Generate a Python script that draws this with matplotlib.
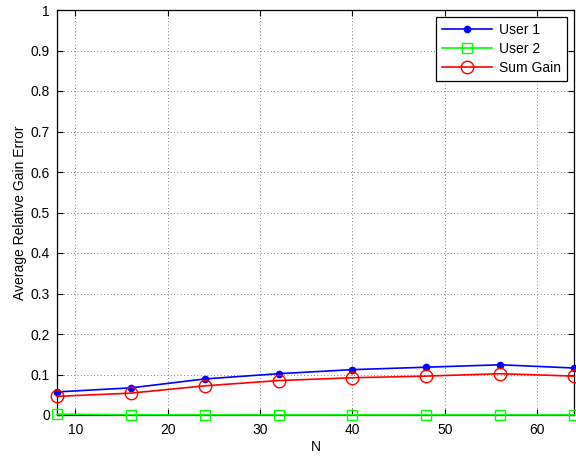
import matplotlib
matplotlib.use("Agg")
import matplotlib.pyplot as plt

N = [8, 16, 24, 32, 40, 48, 56, 64]
user1 = [0.057, 0.067, 0.089, 0.102, 0.112, 0.118, 0.124, 0.116]
user2 = [0.002, 0.0005, 0.0003, 0.0002, 0.0002, 0.0002, 0.0002, 0.0002]
sum_gain = [0.046, 0.054, 0.072, 0.085, 0.092, 0.096, 0.102, 0.096]
xticks = [10, 20, 30, 40, 50, 60]
yticks = [0, 0.1, 0.2, 0.3, 0.4, 0.5, 0.6, 0.7, 0.8, 0.9, 1]

plt.rcParams['font.family'] = ['Liberation Sans', 'DejaVu Sans']
fig = plt.figure(figsize=(5.76, 4.58), dpi=100)
ax = fig.add_axes([57/576, 1-415/458, 517/576, 405/458])

ax.plot(N, user1, color='blue', marker='o', markersize=4.5, linewidth=1.2, label='User 1', clip_on=False, zorder=3)
ax.plot(N, user2, color='#00ff00', marker='s', markersize=6.5, markerfacecolor='none', markeredgewidth=1.0, linewidth=1.2, label='User 2', clip_on=False, zorder=3)
ax.plot(N, sum_gain, color='red', marker='o', markersize=9, markerfacecolor='none', markeredgewidth=1.0, linewidth=1.2, label='Sum Gain', clip_on=False, zorder=3)

ax.set_xlim(8, 64)
ax.set_ylim(0, 1)
ax.set_xticks(xticks)
ax.set_yticks(yticks)
ax.set_yticklabels([f'{v:g}' for v in yticks])
ax.tick_params(direction='in', top=True, right=True, labelsize=10, length=4)
ax.tick_params(axis='x', pad=6)
ax.tick_params(axis='y', pad=5)
ax.grid(True, linestyle=(0, (1, 3)), color='#555555', linewidth=0.6)
ax.set_axisbelow(True)
for s in ax.spines.values():
    s.set_linewidth(0.9)
ax.set_xlabel('N', fontsize=10, labelpad=2)
ax.set_ylabel('Average Relative Gain Error', fontsize=10, labelpad=3)
leg = ax.legend(loc='upper right', fontsize=10, fancybox=False, edgecolor='black', framealpha=1,
                borderaxespad=0.5, handlelength=3.6, handletextpad=0.5, labelspacing=0.35, borderpad=0.45)
leg.get_frame().set_linewidth(0.9)

fig.savefig('out.png', dpi=100)
